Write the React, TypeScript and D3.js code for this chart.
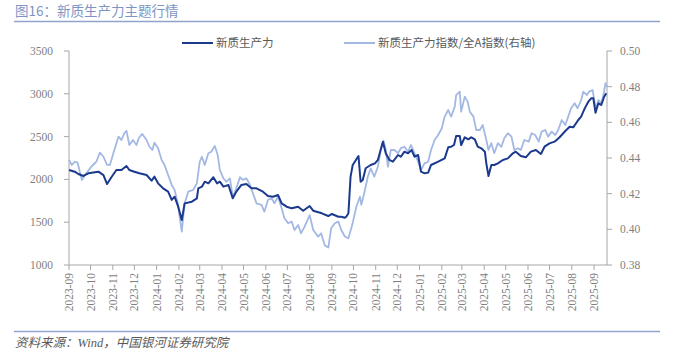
import React from "react";
import * as d3 from "d3";

const W = 673;
const H = 357;

const TITLE = "图16：新质生产力主题行情";
const SOURCE = "资料来源：Wind，中国银河证券研究院";
const SERIES_NAMES = ["新质生产力", "新质生产力指数/全A指数(右轴)"];

const leftTicks = [1000, 1500, 2000, 2500, 3000, 3500];
const rightTicks = [0.38, 0.4, 0.42, 0.44, 0.46, 0.48, 0.5];

// 新质生产力 (left axis)
const darkDates = [
  "2023-09-01","2023-09-09","2023-09-14","2023-09-21","2023-09-28","2023-10-12","2023-10-19","2023-10-24","2023-10-30",
  "2023-11-06","2023-11-13","2023-11-20","2023-11-24","2023-12-01","2023-12-08","2023-12-18","2023-12-25","2023-12-29",
  "2024-01-03","2024-01-10","2024-01-17","2024-01-22","2024-01-26","2024-01-31","2024-02-05","2024-02-09","2024-02-19",
  "2024-02-26","2024-02-28","2024-03-04","2024-03-08","2024-03-13","2024-03-20","2024-03-25","2024-03-29","2024-04-03",
  "2024-04-10","2024-04-16","2024-04-21","2024-04-28","2024-05-05","2024-05-12","2024-05-19","2024-05-28","2024-06-04",
  "2024-06-11","2024-06-18","2024-06-23","2024-06-30","2024-07-07","2024-07-16","2024-07-23","2024-08-01","2024-08-06",
  "2024-08-18","2024-08-27","2024-09-01","2024-09-10","2024-09-14","2024-09-19","2024-09-21","2024-09-24","2024-09-27",
  "2024-09-30","2024-10-08","2024-10-11","2024-10-14","2024-10-18","2024-10-25","2024-10-31","2024-11-04","2024-11-11",
  "2024-11-15","2024-11-20","2024-11-25","2024-12-02","2024-12-06","2024-12-11","2024-12-16","2024-12-21","2024-12-25",
  "2024-12-30","2025-01-03","2025-01-08","2025-01-13","2025-01-17","2025-01-27","2025-02-05","2025-02-10","2025-02-14",
  "2025-02-18","2025-02-21","2025-02-26","2025-02-28","2025-03-05","2025-03-10","2025-03-14","2025-03-19","2025-03-23",
  "2025-03-28","2025-04-02","2025-04-04","2025-04-07","2025-04-11","2025-04-15","2025-04-20","2025-04-27","2025-05-04",
  "2025-05-11","2025-05-15","2025-05-22","2025-05-29","2025-06-05","2025-06-12","2025-06-19","2025-06-24","2025-07-01",
  "2025-07-08","2025-07-15","2025-07-22","2025-07-29","2025-08-03","2025-08-10","2025-08-14","2025-08-19","2025-08-24",
  "2025-08-28","2025-08-31","2025-09-03","2025-09-07","2025-09-11","2025-09-15","2025-09-18"
];
const darkValues = [
  2110,2090,2063,2040,2071,2090,2050,1946,2025,
  2110,2110,2157,2110,2090,2071,2051,1985,2032,
  1954,1896,1857,1760,1798,1681,1526,1720,1740,
  1779,1896,1915,1973,1954,2025,1954,1973,1915,
  1935,1779,1857,1935,1946,1896,1896,1857,1806,
  1798,1818,1720,1681,1662,1681,1634,1689,1634,
  1604,1572,1596,1564,1564,1553,1564,1604,2032,
  2168,2273,1973,1993,2130,2168,2188,2227,2441,
  2305,2227,2207,2285,2265,2324,2305,2343,2265,
  2285,2090,2071,2079,2168,2207,2246,2375,2382,
  2402,2507,2507,2402,2492,2468,2492,2468,2382,
  2363,2324,2188,2040,2168,2168,2188,2227,2246,
  2305,2324,2273,2258,2324,2343,2297,2382,2421,
  2441,2492,2557,2616,2608,2694,2733,2830,2908,
  2947,2947,2779,2889,2869,2966,3006
];

// 新质生产力指数/全A指数 (right axis)
const lightDates = [
  "2023-09-01","2023-09-05","2023-09-09","2023-09-13","2023-09-16","2023-09-19","2023-09-25","2023-10-02","2023-10-09",
  "2023-10-14","2023-10-19","2023-10-24","2023-10-28","2023-11-01","2023-11-06","2023-11-09","2023-11-13","2023-11-17",
  "2023-11-20","2023-11-24","2023-11-29","2023-12-04","2023-12-07","2023-12-12","2023-12-18","2023-12-22","2023-12-26",
  "2023-12-29","2024-01-03","2024-01-08","2024-01-12","2024-01-17","2024-01-22","2024-01-26","2024-01-31","2024-02-02",
  "2024-02-05","2024-02-09","2024-02-14","2024-02-21","2024-02-26","2024-03-01","2024-03-04","2024-03-08","2024-03-13",
  "2024-03-17","2024-03-22","2024-03-26","2024-03-29","2024-04-03","2024-04-07","2024-04-12","2024-04-16","2024-04-21",
  "2024-04-26","2024-04-30","2024-05-05","2024-05-10","2024-05-14","2024-05-19","2024-05-26","2024-05-30","2024-06-04",
  "2024-06-09","2024-06-13","2024-06-18","2024-06-23","2024-06-27","2024-07-02","2024-07-07","2024-07-11","2024-07-16",
  "2024-07-20","2024-07-25","2024-08-01","2024-08-06","2024-08-13","2024-08-17","2024-08-22","2024-08-27","2024-08-31",
  "2024-09-05","2024-09-10","2024-09-14","2024-09-19","2024-09-24","2024-09-30","2024-10-05","2024-10-10","2024-10-12",
  "2024-10-17","2024-10-21","2024-10-25","2024-10-30","2024-11-04","2024-11-08","2024-11-12","2024-11-15","2024-11-18",
  "2024-11-22","2024-11-27","2024-12-02","2024-12-06","2024-12-11","2024-12-16","2024-12-20","2024-12-25","2024-12-30",
  "2025-01-03","2025-01-08","2025-01-13","2025-01-17","2025-01-22","2025-01-27","2025-02-01","2025-02-05","2025-02-10",
  "2025-02-14","2025-02-19","2025-02-21","2025-02-26","2025-02-28","2025-03-05","2025-03-09","2025-03-12","2025-03-17",
  "2025-03-21","2025-03-26","2025-03-30","2025-04-04","2025-04-07","2025-04-11","2025-04-15","2025-04-20","2025-04-25",
  "2025-04-29","2025-05-04","2025-05-09","2025-05-13","2025-05-18","2025-05-22","2025-05-27","2025-06-02","2025-06-06",
  "2025-06-11","2025-06-16","2025-06-20","2025-06-25","2025-06-29","2025-07-04","2025-07-09","2025-07-13","2025-07-18",
  "2025-07-23","2025-07-27","2025-07-31","2025-08-05","2025-08-09","2025-08-14","2025-08-17","2025-08-22","2025-08-25",
  "2025-08-30","2025-09-02","2025-09-04","2025-09-07","2025-09-11","2025-09-14","2025-09-17","2025-09-19"
];
const lightValues = [
  0.4389,0.4361,0.4379,0.4374,0.4323,0.4277,0.4314,0.4351,0.4379,
  0.4430,0.4407,0.4361,0.4361,0.4417,0.4483,0.4520,0.4501,0.4539,
  0.4553,0.4473,0.4501,0.4473,0.4511,0.4535,0.4501,0.4463,0.4445,
  0.4486,0.4455,0.4389,0.4361,0.4305,0.4249,0.4221,0.4137,0.4071,
  0.3987,0.4146,0.4211,0.4221,0.4258,0.4379,0.4407,0.4361,0.4427,
  0.4435,0.4467,0.4417,0.4333,0.4286,0.4267,0.4286,0.4183,0.4230,
  0.4292,0.4277,0.4286,0.4249,0.4202,0.4146,0.4137,0.4099,0.4165,
  0.4174,0.4146,0.4183,0.4118,0.4062,0.4034,0.4043,0.3996,0.4024,
  0.3978,0.4015,0.4080,0.3996,0.3959,0.3978,0.3911,0.3898,0.4006,
  0.4034,0.4043,0.3996,0.3960,0.3950,0.4036,0.4127,0.4183,0.4137,
  0.4221,0.4295,0.4342,0.4295,0.4351,0.4445,0.4497,0.4445,0.4351,
  0.4445,0.4445,0.4427,0.4455,0.4463,0.4435,0.4473,0.4427,0.4379,
  0.4333,0.4370,0.4379,0.4445,0.4501,0.4529,0.4567,0.4632,0.4669,
  0.4632,0.4688,0.4753,0.4772,0.4660,0.4744,0.4716,0.4660,0.4632,
  0.4557,0.4557,0.4585,0.4501,0.4445,0.4483,0.4427,0.4483,0.4463,
  0.4511,0.4539,0.4520,0.4445,0.4455,0.4445,0.4501,0.4492,0.4539,
  0.4529,0.4492,0.4548,0.4557,0.4520,0.4548,0.4529,0.4557,0.4613,
  0.4585,0.4632,0.4679,0.4707,0.4679,0.4725,0.4772,0.4753,0.4772,
  0.4781,0.4707,0.4679,0.4725,0.4707,0.4753,0.4819,0.4800
];

const parse = d3.timeParse("%Y-%m-%d");
const fmt = d3.timeFormat("%Y-%m");

export default function App() {
  const left = 69, right = 607, top = 51, bottom = 265;
  const x = d3.scaleTime().domain([parse("2023-09-01")!, parse("2025-09-19")!]).range([left, right]);
  const yL = d3.scaleLinear().domain([1000, 3500]).range([bottom, top]);
  const yR = d3.scaleLinear().domain([0.38, 0.5]).range([bottom, top]);
  const monthTicks = d3.timeMonth.range(parse("2023-09-01")!, parse("2025-09-02")!);

  const dark = darkDates.map((d, i) => ({ d: parse(d)!, v: darkValues[i] }));
  const light = lightDates.map((d, i) => ({ d: parse(d)!, v: lightValues[i] }));
  const darkLine = d3.line<{ d: Date; v: number }>().x(p => x(p.d)).y(p => yL(p.v));
  const lightLine = d3.line<{ d: Date; v: number }>().x(p => x(p.d)).y(p => yR(p.v));

  const axisColor = "#A6A6A6";
  const textColor = "#7F7F7F";
  const serif = "'Liberation Serif', 'Times New Roman', 'Noto Sans CJK SC', serif";
  const cjk = "'Noto Sans CJK SC', sans-serif";
  const darkColor = "#1B3A8E";
  const lightColor = "#A3B8E3";
  const titleColor = "#7D95C4";

  return (
    <svg width={W} height={H} style={{ position: "absolute", left: 0, top: 0, background: "#fff" }}>
      <text x={15} y={16} fontSize={13.5} fill={titleColor} fontFamily={cjk}>{TITLE}</text>
      <line x1={14} x2={660} y1={21.5} y2={21.5} stroke="#8FA3CD" strokeWidth={1.6} />

      {/* legend */}
      <line x1={182} x2={213} y1={43} y2={43} stroke={darkColor} strokeWidth={2} />
      <text x={216} y={47} fontSize={11.5} fill="#595959" fontFamily={cjk}>{SERIES_NAMES[0]}</text>
      <line x1={344} x2={375} y1={43} y2={43} stroke={lightColor} strokeWidth={2} />
      <text x={378} y={47} fontSize={11.5} fill="#595959" fontFamily={cjk}>{SERIES_NAMES[1]}</text>

      {/* left axis */}
      <line x1={left} x2={left} y1={top} y2={bottom} stroke={axisColor} />
      {leftTicks.map(t => (
        <g key={"l" + t}>
          <line x1={left - 5} x2={left} y1={yL(t)} y2={yL(t)} stroke={axisColor} />
          <text x={53} y={yL(t)} dy="0.35em" textAnchor="end" fontSize={11.5} fill={textColor} fontFamily={serif}>{t}</text>
        </g>
      ))}

      {/* right axis */}
      <line x1={right} x2={right} y1={top} y2={bottom} stroke={axisColor} />
      {rightTicks.map(t => (
        <g key={"r" + t}>
          <line x1={right} x2={right + 5} y1={yR(t)} y2={yR(t)} stroke={axisColor} />
          <text x={620} y={yR(t)} dy="0.35em" textAnchor="start" fontSize={11.5} fill={textColor} fontFamily={serif}>{t.toFixed(2)}</text>
        </g>
      ))}

      {/* bottom axis */}
      <line x1={left} x2={right} y1={bottom} y2={bottom} stroke={axisColor} />
      {monthTicks.map(t => (
        <g key={"x" + t.getTime()}>
          <line x1={x(t)} x2={x(t)} y1={bottom} y2={bottom + 5} stroke={axisColor} />
          <text transform={`translate(${x(t)},${bottom + 8}) rotate(-90)`} textAnchor="end" dominantBaseline="central" fontSize={11.5} fill={textColor} fontFamily={serif}>{fmt(t)}</text>
        </g>
      ))}

      <path d={lightLine(light) || ""} fill="none" stroke={lightColor} strokeWidth={1.8} strokeLinejoin="round" />
      <path d={darkLine(dark) || ""} fill="none" stroke={darkColor} strokeWidth={2} strokeLinejoin="round" />

      <line x1={14} x2={660} y1={331.5} y2={331.5} stroke="#8FA3CD" strokeWidth={1.6} />
      <text x={15} y={347} fontSize={12.5} fill="#595959" fontStyle="italic" fontFamily={"'Liberation Serif', 'Noto Sans CJK SC', serif"}>{SOURCE}</text>
    </svg>
  );
}
